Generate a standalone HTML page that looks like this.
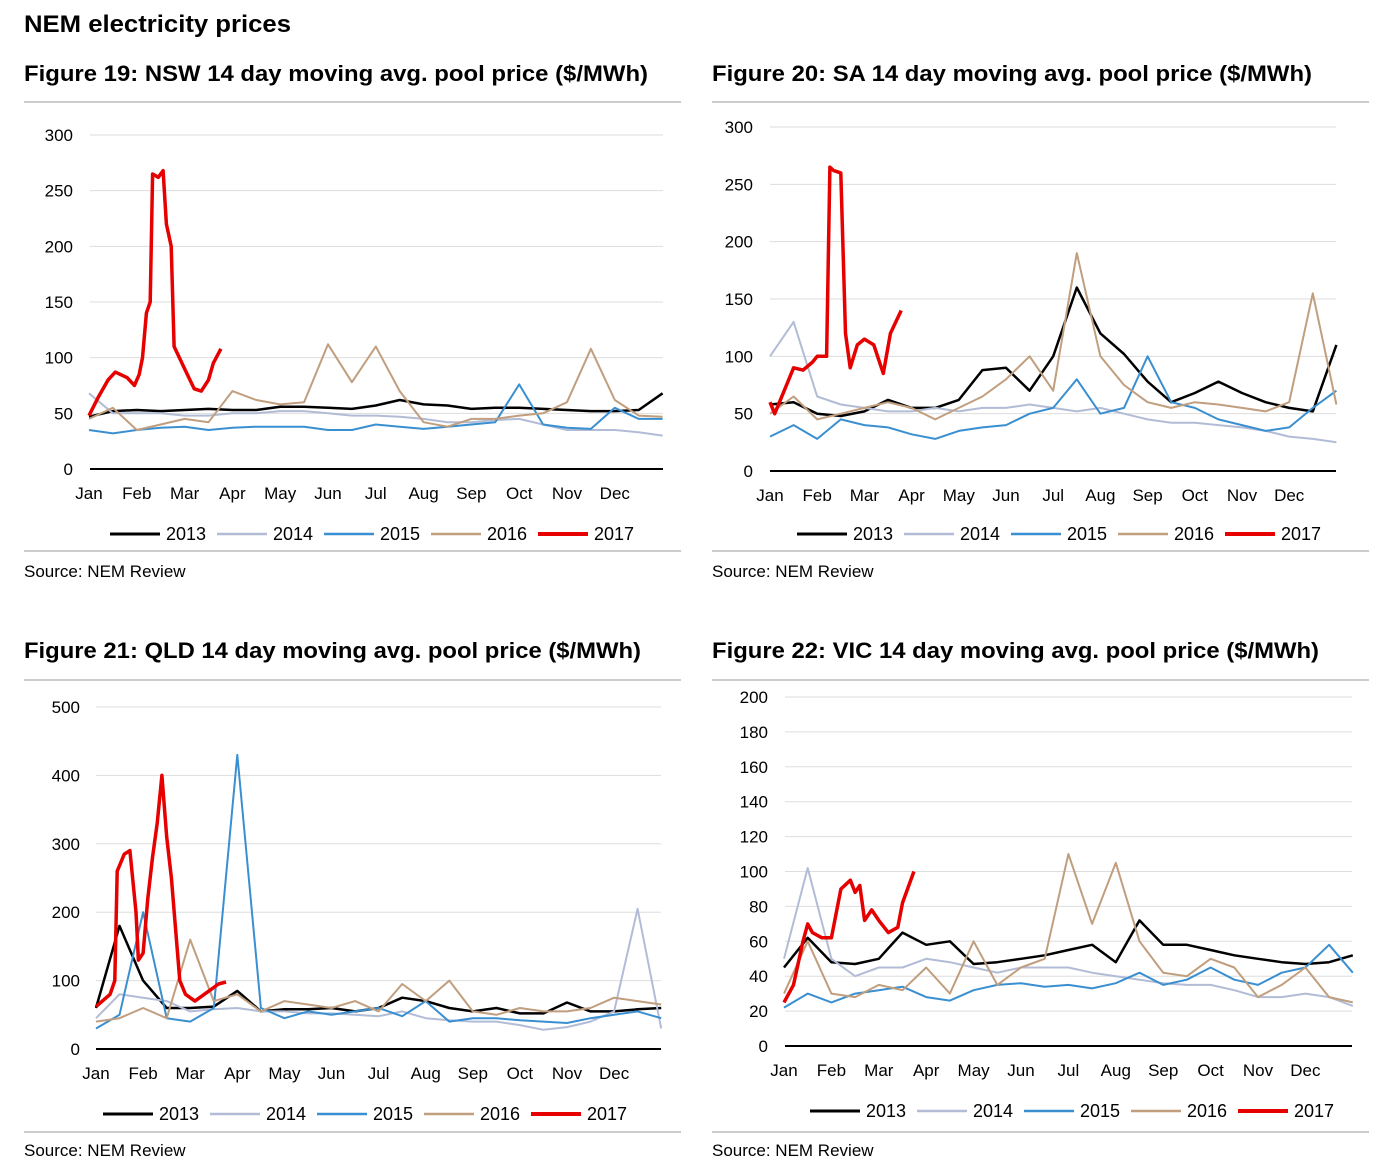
<!DOCTYPE html>
<html><head><meta charset="utf-8"><style>
body{margin:0;background:#fff;width:1375px;height:1167px;overflow:hidden}
svg text{font-family:"Liberation Sans",sans-serif}
</style></head><body>
<svg id="c" width="1375" height="1167" xmlns="http://www.w3.org/2000/svg">
<text x="24" y="32" font-size="24" font-weight="bold" textLength="267" lengthAdjust="spacingAndGlyphs">NEM electricity prices</text>
</svg>
<script>
// ---- data (months from Jan 1; values $/MWh) ----
const months = ["Jan","Feb","Mar","Apr","May","Jun","Jul","Aug","Sep","Oct","Nov","Dec"];
const years = ["2013","2014","2015","2016","2017"];
// background years sampled every half month (0..12)
const nsw2013 = [47,52,53,52,53,54,53,53,56,56,55,54,57,62,58,57,54,55,55,54,53,52,52,53,68];
const nsw2014 = [68,50,50,50,48,48,50,50,52,52,50,48,48,47,45,42,42,44,45,40,35,35,35,33,30];
const nsw2015 = [35,32,35,37,38,35,37,38,38,38,35,35,40,38,36,38,40,42,76,40,37,36,55,45,45];
const nsw2016 = [45,55,35,40,45,42,70,62,58,60,112,78,110,70,42,38,45,45,48,50,60,108,62,48,47];
const nsw2017m = [0,0.2,0.4,0.55,0.8,0.95,1.05,1.12,1.2,1.28,1.33,1.45,1.55,1.62,1.72,1.78,2.0,2.2,2.35,2.5,2.6,2.76];
const nsw2017 = [48,65,80,87,82,75,85,100,140,150,265,262,268,220,200,110,90,72,70,80,95,108];

const sa2013 = [58,60,50,48,52,62,55,55,62,88,90,70,100,160,120,102,78,60,68,78,68,60,55,52,110];
const sa2014 = [100,130,65,58,55,52,52,55,52,55,55,58,55,52,55,50,45,42,42,40,38,35,30,28,25];
const sa2015 = [30,40,28,45,40,38,32,28,35,38,40,50,55,80,50,55,100,60,55,45,40,35,38,55,70];
const sa2016 = [50,65,45,50,55,60,55,45,55,65,80,100,70,190,100,75,60,55,60,58,55,52,60,155,58];
const sa2017m = [0,0.1,0.3,0.5,0.7,0.9,1.0,1.2,1.27,1.35,1.5,1.6,1.7,1.85,2.0,2.2,2.4,2.55,2.78];
const sa2017 = [60,50,70,90,88,95,100,100,265,262,260,120,90,110,115,110,85,120,140];

const qld2013 = [60,180,100,60,60,62,85,55,58,58,60,55,60,75,70,60,55,60,52,52,68,55,55,58,60];
const qld2014 = [45,80,75,70,55,58,60,55,55,52,52,50,48,55,45,42,40,40,35,28,32,40,55,205,30];
const qld2015 = [30,50,200,45,40,60,430,60,45,55,50,55,60,48,70,40,45,45,42,40,38,45,50,55,45];
const qld2016 = [40,45,60,45,160,70,80,55,70,65,60,70,55,95,70,100,55,50,60,55,55,60,75,70,65];
const qld2017m = [0,0.3,0.4,0.45,0.6,0.72,0.85,0.9,1.0,1.1,1.2,1.3,1.4,1.5,1.6,1.78,1.9,2.1,2.4,2.6,2.76];
const qld2017 = [62,80,100,260,285,290,200,130,140,220,280,330,400,310,250,100,80,70,85,95,98];

const vic2013 = [45,62,48,47,50,65,58,60,47,48,50,52,55,58,48,72,58,58,55,52,50,48,47,48,52];
const vic2014 = [50,102,50,40,45,45,50,48,45,42,45,45,45,42,40,38,36,35,35,32,28,28,30,28,23];
const vic2015 = [22,30,25,30,32,34,28,26,32,35,36,34,35,33,36,42,35,38,45,38,35,42,45,58,42];
const vic2016 = [30,60,30,28,35,32,45,30,60,35,45,50,110,70,105,60,42,40,50,45,28,35,45,28,25];
const vic2017m = [0,0.2,0.4,0.5,0.6,0.8,1.0,1.2,1.4,1.5,1.6,1.7,1.85,2.0,2.2,2.4,2.5,2.74];
const vic2017 = [25,35,60,70,65,62,62,90,95,88,92,72,78,72,65,68,82,100];

const NS="http://www.w3.org/2000/svg", svg=document.getElementById('c');
function mk(t,a,p){const e=document.createElementNS(NS,t);for(const k in a)e.setAttribute(k,a[k]);(p||svg).appendChild(e);return e;}
const colors={"2013":"#000","2014":"#b3bcd6","2015":"#3a8fd0","2016":"#c09e7e","2017":"#e60000"};
const widths={"2013":2.5,"2014":2,"2015":2,"2016":2,"2017":3.5};

const panels=[
 {id:"nsw",title:"Figure 19: NSW 14 day moving avg. pool price ($/MWh)",tl:624,px:24,ty:81,r1:102,r2:551,src:577,jan:89,pm:47.8,gl:90,gr:663,zero:469,top:135,max:300,step:50,ylx:73,xly:499,ly:540,lx:110,
  s:[nsw2013,nsw2014,nsw2015,nsw2016],m17:nsw2017m,v17:nsw2017},
 {id:"sa",title:"Figure 20: SA 14 day moving avg. pool price ($/MWh)",tl:600,px:712,ty:81,r1:102,r2:551,src:577,jan:770,pm:47.2,gl:770,gr:1336,zero:471,top:127,max:300,step:50,ylx:753,xly:501,ly:540,lx:797,
  s:[sa2013,sa2014,sa2015,sa2016],m17:sa2017m,v17:sa2017},
 {id:"qld",title:"Figure 21: QLD 14 day moving avg. pool price ($/MWh)",tl:617,px:24,ty:658,r1:680,r2:1132,src:1156,jan:96,pm:47.1,gl:96,gr:661,zero:1049,top:707,max:500,step:100,ylx:80,xly:1079,ly:1120,lx:103,
  s:[qld2013,qld2014,qld2015,qld2016],m17:qld2017m,v17:qld2017},
 {id:"vic",title:"Figure 22: VIC 14 day moving avg. pool price ($/MWh)",tl:607,px:712,ty:658,r1:680,r2:1132,src:1156,jan:784,pm:47.4,gl:785,gr:1352,zero:1046,top:697,max:200,step:20,ylx:768,xly:1076,ly:1117,lx:810,
  s:[vic2013,vic2014,vic2015,vic2016],m17:vic2017m,v17:vic2017}
];

panels.forEach(p=>{
 const g=mk('g',{});
 
 
 const xs=m=>p.jan+m*p.pm, ys=v=>p.zero-(v/p.max)*(p.zero-p.top);
 const t=mk('text',{x:p.px,y:p.ty,'font-size':22,'font-weight':'bold',textLength:p.tl,lengthAdjust:'spacingAndGlyphs'},g);t.textContent=p.title;
 
 
 mk('line',{x1:p.px,x2:p.px+657,y1:p.r1,y2:p.r1,stroke:'#ccc','stroke-width':2},g);
 mk('line',{x1:p.px,x2:p.px+657,y1:p.r2,y2:p.r2,stroke:'#ccc','stroke-width':2},g);
 const s=mk('text',{x:p.px,y:p.src,'font-size':17},g);s.textContent="Source:  NEM Review";
 
 
 for(let v=0;v<=p.max;v+=p.step){
  if(v>0)mk('line',{x1:p.gl,x2:p.gr,y1:ys(v),y2:ys(v),stroke:'#ddd','stroke-width':1},g);
  const l=mk('text',{x:p.ylx,y:ys(v)+6,'font-size':17,'text-anchor':'end'},g);l.textContent=v;
  
  
 }
 months.forEach((m,i)=>{const l=mk('text',{x:xs(i),y:p.xly,'font-size':17,'text-anchor':'middle'},g);l.textContent=m;
  
  });
 const draw=(ms,vs,y)=>{const d=vs.map((v,i)=>(i?'L':'M')+xs(ms[i]).toFixed(1)+','+ys(v).toFixed(1)).join('');
  const e=mk('path',{d:d,fill:'none',stroke:colors[y],'stroke-width':widths[y],'stroke-linejoin':'round'},g);
  
  };
 p.s.forEach((arr,k)=>draw(arr.map((_,i)=>i*0.5),arr,years[k]));
 draw(p.m17,p.v17,"2017");
 mk('line',{x1:p.gl,x2:p.gr,y1:p.zero,y2:p.zero,stroke:'#000','stroke-width':2},g);
 years.forEach((y,k)=>{const x=p.lx+k*107;
  mk('line',{x1:x,x2:x+50,y1:p.ly-6,y2:p.ly-6,stroke:colors[y],'stroke-width':widths[y]+0.5},g);
  const l=mk('text',{x:x+56,y:p.ly,'font-size':18},g);l.textContent=y;
  
  });
});
</script>
</body></html>
